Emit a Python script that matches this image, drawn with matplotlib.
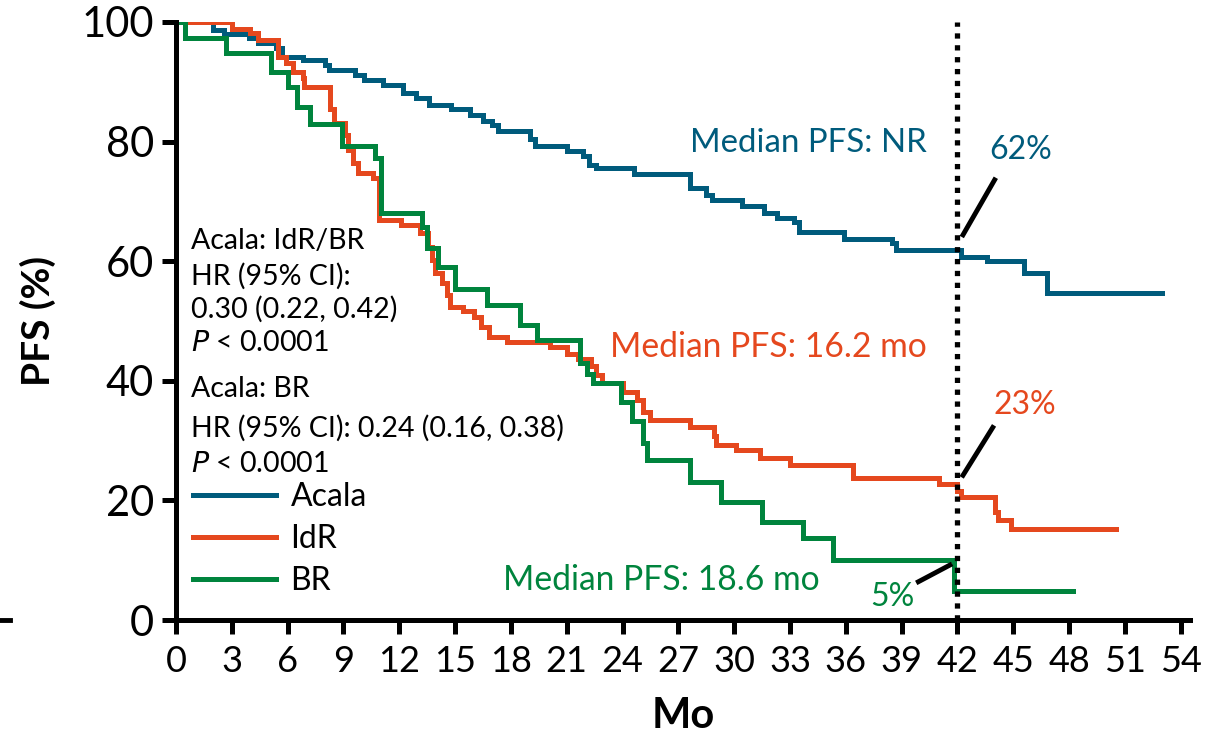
import matplotlib
matplotlib.use("Agg")
import matplotlib.pyplot as plt
from matplotlib.lines import Line2D

plt.rcParams['font.family'] = ['Lato', 'DejaVu Sans']

# Kaplan-Meier step data (months, PFS %)
acala_t = [0, 2.0, 2.6, 3.9, 4.4, 5.4, 5.7, 6.8, 8.0, 8.2, 9.6, 10.1, 11.1, 12.2, 12.9,
           13.6, 14.8, 15.8, 16.5, 17.0, 17.3, 19.0, 19.3, 21.0, 21.9, 22.2, 22.6, 24.6,
           27.6, 28.5, 28.8, 30.4, 31.6, 32.3, 33.2, 33.5, 35.9, 38.5, 38.7, 42.2, 43.6,
           45.6, 46.8, 53.0]
acala_s = [100, 98.7, 98.0, 97.3, 96.5, 95.6, 94.2, 93.6, 92.8, 92.0, 91.1, 90.3, 89.5,
           88.1, 87.3, 86.1, 85.4, 84.4, 83.5, 82.8, 81.8, 80.5, 79.2, 78.5, 77.6, 76.1,
           75.6, 74.5, 72.2, 71.1, 70.3, 69.2, 68.0, 67.2, 66.6, 64.8, 63.7, 63.0, 61.8,
           60.7, 60.1, 58.0, 54.7, 54.7]

idr_t = [0, 3.0, 4.0, 4.4, 5.5, 5.9, 6.3, 6.8, 6.9, 8.3, 8.5, 9.1, 9.25, 9.5, 9.8, 10.6,
         10.9, 12.1, 13.1, 13.55, 13.75, 13.9, 14.3, 14.55, 14.7, 15.4, 16.0, 16.4, 16.8,
         17.8, 20.1, 21.0, 21.6, 22.3, 22.6, 22.9, 24.0, 24.8, 25.1, 25.5, 27.6, 28.9,
         29.0, 30.1, 31.4, 33.0, 36.4, 41.0, 42.0, 42.2, 44.0, 44.2, 44.9, 50.5]
idr_s = [100, 98.8, 98.2, 97.0, 94.2, 93.1, 91.7, 90.6, 89.2, 85.5, 83.1, 81.1, 78.6,
         76.4, 74.7, 73.9, 66.9, 66.1, 64.7, 62.4, 60.2, 58.0, 56.4, 54.3, 52.4, 51.6,
         50.7, 49.0, 47.4, 46.5, 45.7, 44.5, 43.7, 42.5, 41.0, 39.6, 38.2, 36.8, 34.8,
         33.4, 32.2, 30.7, 29.3, 28.4, 27.1, 25.9, 23.7, 22.7, 21.5, 20.6, 18.1, 16.8,
         15.3, 15.3]

br_t = [0, 0.5, 2.7, 5.1, 6.0, 6.5, 7.2, 8.9, 10.7, 11.0, 13.2, 13.5, 14.1, 15.0, 16.7,
        18.5, 19.4, 21.7, 22.1, 22.4, 23.9, 24.5, 25.1, 25.3, 27.6, 29.3, 31.5, 33.7,
        35.3, 41.8, 48.2]
br_s = [100, 97.3, 94.8, 91.7, 89.2, 85.8, 83.0, 79.2, 77.2, 68.0, 65.8, 62.2, 59.0,
        55.4, 52.7, 49.3, 46.8, 42.9, 41.2, 39.6, 36.5, 33.2, 29.6, 26.8, 23.1, 19.8,
        16.4, 13.7, 10.0, 4.85, 4.85]

arm_names = ["Acala", "IdR", "BR"]
arm_colors = ["#005B7C", "#E5481E", "#00843D"]

landmark = 42
x_ticks = list(range(0, 55, 3))
y_ticks = [0, 20, 40, 60, 80, 100]

fig = plt.figure(figsize=(12.25, 7.37), dpi=100)
ax = fig.add_axes([0.1437, 0.1587, 0.8277, 0.8115])

lw = 3.6
for t, s, c, name in zip([acala_t, idr_t, br_t], [acala_s, idr_s, br_s], arm_colors, arm_names):
    ax.step(t, s, where="post", color=c, lw=lw, label=name, solid_joinstyle="miter")

ax.plot([landmark, landmark], [0, 100], color="black", lw=3.8,
        dashes=(1, 1.25), dash_capstyle="butt", zorder=5)

ax.set_xlim(0, 54.5)
ax.set_ylim(0, 100)
ax.set_xticks(x_ticks)
ax.set_yticks(y_ticks)
ax.set_xticklabels([str(v) for v in x_ticks], fontsize=26)
ax.set_yticklabels([str(v) for v in y_ticks], fontsize=30)
for sp in ["top", "right"]:
    ax.spines[sp].set_visible(False)
for sp in ["left", "bottom"]:
    ax.spines[sp].set_linewidth(3.6)
ax.tick_params(axis="both", direction="out", length=10, width=3.6, pad=6)
ax.tick_params(axis="x", pad=8)
ax.set_xlabel("Mo", fontsize=30, fontweight="bold", labelpad=14)
ax.set_ylabel("PFS (%)", fontsize=28, fontweight="bold", labelpad=18)

# median labels
ax.text(27.6, 79.8, "Median PFS: NR", color=arm_colors[0], fontsize=23.8, va="center")
ax.text(23.3, 45.6, "Median PFS: 16.2 mo", color=arm_colors[1], fontsize=24.2, va="center")
ax.text(17.6, 6.7, "Median PFS: 18.6 mo", color=arm_colors[2], fontsize=24.2, va="center")

# landmark percentages
ax.text(45.4, 78.6, "62%", color=arm_colors[0], fontsize=23, ha="center", va="center")
ax.plot([42.3, 44.0], [64.4, 73.6], color="black", lw=3.5)
ax.text(45.6, 36.0, "23%", color=arm_colors[1], fontsize=23, ha="center", va="center")
ax.plot([42.3, 43.9], [24.2, 32.2], color="black", lw=3.5)
ax.text(38.5, 3.8, "5%", color=arm_colors[2], fontsize=23, ha="center", va="center")
ax.plot([39.9, 41.6], [6.4, 9.2], color="black", lw=3.5)

# hazard ratio block
hr_lines = [
    (63.4, "Acala: IdR/BR"),
    (57.5, "HR (95% CI):"),
    (52.0, "0.30 (0.22, 0.42)"),
    (46.3, "$\\it{P}$ < 0.0001"),
    (38.6, "Acala: BR"),
    (32.0, "HR (95% CI): 0.24 (0.16, 0.38)"),
    (26.1, "$\\it{P}$ < 0.0001"),
]
for y, txt in hr_lines:
    ax.text(0.8, y, txt, fontsize=20.5, va="center", color="black")

leg = ax.legend(loc="center left", bbox_to_anchor=(0.0168, 0.1355), frameon=False,
                fontsize=23, handlelength=2.6, handletextpad=0.45, labelspacing=0.38,
                borderpad=0, borderaxespad=0)
for h in leg.get_lines():
    h.set_linewidth(3.6)

# stray fragment of neighbouring panel at left edge
fig.add_artist(Line2D([0.0, 0.008], [1 - 620 / 737, 1 - 620 / 737], color="black", lw=3.5))

fig.savefig("out.png", dpi=100)
